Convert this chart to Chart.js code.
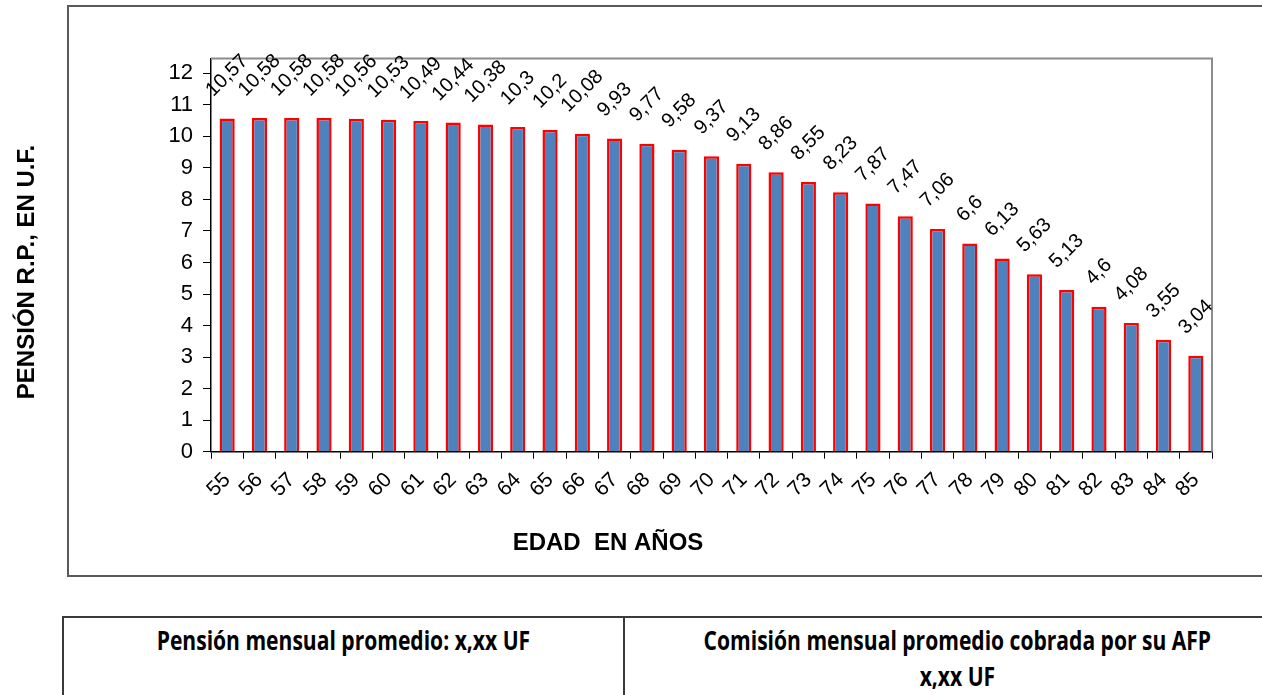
<!DOCTYPE html>
<html>
<head>
<meta charset="utf-8">
<script src="https://cdn.jsdelivr.net/npm/chart.js@4.4.1/dist/chart.umd.min.js"></script>
<style>
  html, body { margin: 0; padding: 0; background: #fff; }
  #wrap { position: relative; width: 1262px; height: 695px; overflow: hidden; }
  #c { position: absolute; left: 0; top: 0; }
  #tbl { position: absolute; left: 62px; top: 616px; width: 1240px; height: 120px;
         border-top: 2px solid #3a3a3a; border-left: 2px solid #3a3a3a; }
  .cell { position: absolute; top: 0; height: 120px; text-align: center;
          font-family: "Open Sans", sans-serif; font-weight: bold;
          font-size: 27px; color: #000; line-height: 36px; padding-top: 4px; }
  .cell span { display: inline-block; transform: scaleX(0.78); transform-origin: center; white-space: nowrap; }
  #cl { left: 0; width: 559px; border-right: 2px solid #3a3a3a; }
  #cr { left: 561px; width: 664px; }
</style>
</head>
<body>
<div id="wrap">
  <canvas id="c" width="1262" height="595"></canvas>
  <div id="tbl">
    <div class="cell" id="cl"><span>Pensión mensual promedio: x,xx UF</span></div>
    <div class="cell" id="cr"><span>Comisión mensual promedio cobrada por su AFP</span><br><span>x,xx UF</span></div>
  </div>
</div>
<script>
const ages = ['55','56','57','58','59','60','61','62','63','64','65','66','67','68','69','70','71','72','73','74','75','76','77','78','79','80','81','82','83','84','85'];
const pension = [10.57,10.58,10.58,10.58,10.56,10.53,10.49,10.44,10.38,10.3,10.2,10.08,9.93,9.77,9.58,9.37,9.13,8.86,8.55,8.23,7.87,7.47,7.06,6.6,6.13,5.63,5.13,4.6,4.08,3.55,3.04];
const yTickValues = [0,1,2,3,4,5,6,7,8,9,10,11,12];
const yTitle = 'PENSIÓN R.P., EN U.F.';
const xTitle = 'EDAD  EN AÑOS';

const FONT = '"Liberation Sans", Arial, sans-serif';

const framePlugin = {
  id: 'frame',
  beforeDraw(chart) {
    const ctx = chart.ctx;
    ctx.save();
    ctx.strokeStyle = '#5a5a5a';
    ctx.lineWidth = 2;
    ctx.strokeRect(68, 6, 1300, 570);
    ctx.restore();
  },
  beforeDatasetsDraw(chart) {
    const a = chart.chartArea, ctx = chart.ctx;
    ctx.save();
    ctx.strokeStyle = '#8c8c8c';
    ctx.lineWidth = 2;
    ctx.beginPath();
    ctx.moveTo(a.left, a.top);
    ctx.lineTo(a.right, a.top);
    ctx.lineTo(a.right, a.bottom);
    ctx.stroke();
    ctx.restore();
  },
  afterDraw(chart) {
    const ctx = chart.ctx;
    ctx.save();
    ctx.fillStyle = '#000';
    ctx.font = 'bold 24px ' + FONT;
    ctx.textAlign = 'center';
    ctx.textBaseline = 'middle';
    ctx.fillText(xTitle, 608, 543);
    ctx.translate(27, 272);
    ctx.rotate(-Math.PI / 2);
    ctx.fillText(yTitle, 0, 0);
    ctx.restore();
  }
};

const labelPlugin = {
  id: 'barLabels',
  afterDatasetsDraw(chart) {
    const ctx = chart.ctx;
    const meta = chart.getDatasetMeta(0);
    ctx.save();
    ctx.fillStyle = '#000';
    ctx.font = '20px ' + FONT;
    ctx.textAlign = 'center';
    ctx.textBaseline = 'middle';
    meta.data.forEach((bar, i) => {
      const txt = String(chart.data.datasets[0].data[i]).replace('.', ',');
      const w = ctx.measureText(txt).width;
      ctx.save();
      ctx.translate(bar.x, bar.y - 25 - w * 0.354);
      ctx.rotate(-Math.PI / 4);
      ctx.fillText(txt, 0, 0);
      ctx.restore();
    });
    ctx.restore();
  }
};

new Chart(document.getElementById('c'), {
  type: 'bar',
  data: {
    labels: ages,
    datasets: [{
      data: pension,
      backgroundColor: '#4F81BD',
      borderColor: '#FF0000',
      borderWidth: 2.5,
      barPercentage: 0.47,
      categoryPercentage: 1
    }]
  },
  options: {
    responsive: false,
    animation: false,
    layout: { padding: { left: 0, right: 50, top: 58.5, bottom: 0 } },
    plugins: { legend: { display: false }, tooltip: { enabled: false }, title: { display: false } },
    scales: {
      x: {
        grid: { display: true, offset: true, drawOnChartArea: false, drawTicks: true, tickLength: 7, color: '#000' },
        border: { display: true, color: '#000', width: 1.5 },
        ticks: { autoSkip: false, maxRotation: 45, minRotation: 45, padding: 9, color: '#000', font: { family: FONT, size: 21 } },
        afterFit(s) { s.height = 595 - 451.7; }
      },
      y: {
        min: 0, max: 12.47,
        grid: { display: true, drawOnChartArea: false, drawTicks: true, tickLength: 8, color: '#000' },
        border: { display: true, color: '#000', width: 1.5 },
        ticks: { padding: 10, color: '#000', font: { family: FONT, size: 22 } },
        afterBuildTicks(s) { s.ticks = yTickValues.map(v => ({ value: v })); },
        afterFit(s) { s.width = 211; }
      }
    }
  },
  plugins: [framePlugin, labelPlugin]
});
</script>
</body>
</html>
